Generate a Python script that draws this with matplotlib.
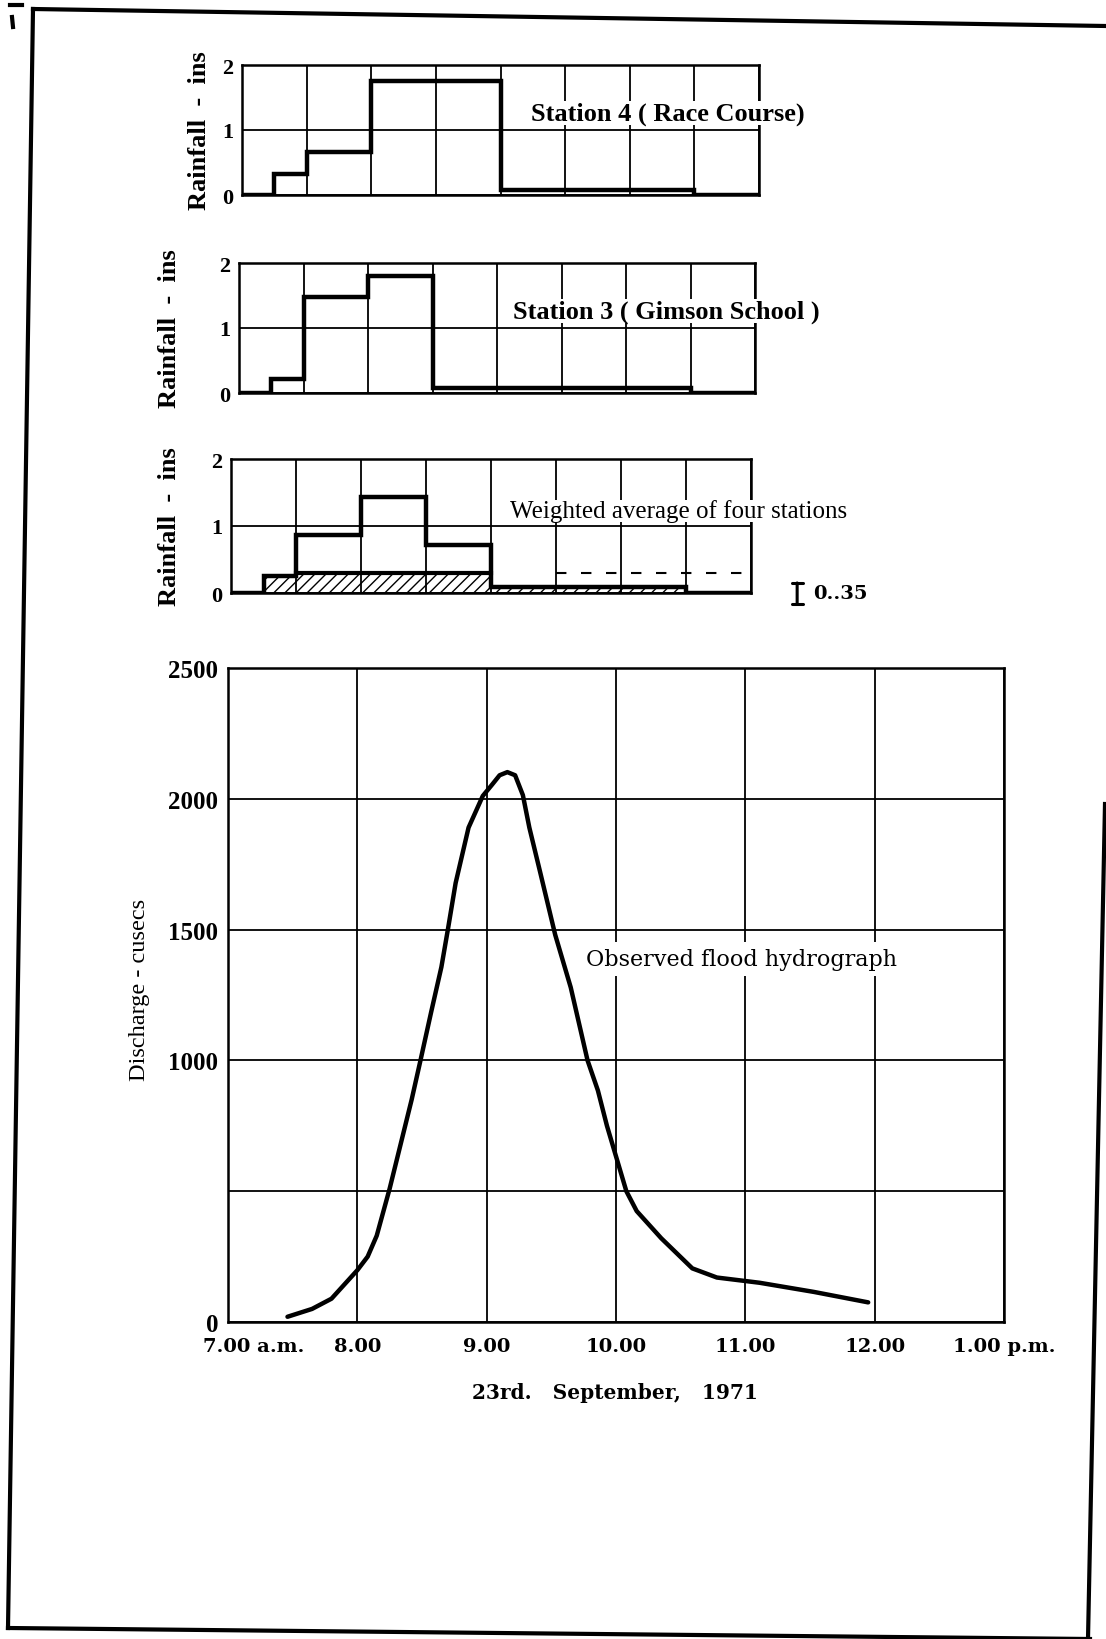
"""
Rainfall hyetographs and observed flood hydrograph, 23 Sept 1971.
Redrawn from a scanned figure; saves out.png.
"""

import matplotlib
matplotlib.use("Agg")
import matplotlib.pyplot as plt
import matplotlib.transforms as mtrans
from matplotlib.lines import Line2D

W, H = 1106, 1640

# ── data ──────────────────────────────────────────────────────────────────────
# rainfall panels: time slots (unlabelled grid units) and depth per slot (ins)
SLOT_EDGES = [0, 0.5, 1, 2, 3, 4, 7, 8]
STATION4   = [0, 0.32, 0.66, 1.76, 1.76, 0.07, 0]
STATION3   = [0, 0.21, 1.48, 1.80, 0.07, 0.07, 0]
WEIGHTED   = [0, 0.26, 0.87, 1.44, 0.71, 0.09, 0]
LOSS       = [0, 0.26, 0.30, 0.30, 0.30, 0.09, 0]   # hatched part under phi line
PHI        = 0.30
PHI_DASH_X = [5.0, 7.9]
PHI_BAR_X  = 8.71
PHI_BAR_Y  = [-0.16, 0.15]

# hydrograph: clock hours (7 = 7.00 a.m.) and discharge (cusecs)
HOURS = [7.46, 7.65, 7.80, 8.00, 8.08, 8.15, 8.20, 8.25, 8.32, 8.42, 8.49,
         8.57, 8.65, 8.70, 8.76, 8.86, 8.97, 9.04, 9.10, 9.16, 9.22, 9.28,
         9.33, 9.41, 9.53, 9.65, 9.78, 9.86, 9.93, 10.02, 10.08, 10.16,
         10.35, 10.59, 10.78, 11.11, 11.53, 11.95]
DISCHARGE = [20, 50, 89, 198, 250, 330, 420, 510, 650, 850, 1004,
             1183, 1357, 1500, 1678, 1890, 2011, 2053, 2090, 2102, 2090, 2014,
             1890, 1727, 1480, 1279, 1000, 885, 750, 600, 500, 424,
             320, 205, 170, 150, 115, 75]

HOUR_TICKS  = [7, 8, 9, 10, 11, 12, 13]
HOUR_LABELS = ["7.00 a.m.", "8.00", "9.00", "10.00", "11.00", "12.00", "1.00 p.m."]
Q_TICKS     = [0, 500, 1000, 1500, 2000, 2500]
Q_LABELS    = ["0", "", "1000", "1500", "2000", "2500"]

SERIF  = "Liberation Serif"
SERIF2 = "DejaVu Serif"


def rect(l, r, t, b):
    return [l / W, 1 - b / H, (r - l) / W, (b - t) / H]


def fpos(x, y):
    return x / W, 1 - y / H


fig = plt.figure(figsize=(W / 100, H / 100), dpi=100)
fig.patch.set_facecolor("white")


# ── rainfall panels ───────────────────────────────────────────────────────────
def rain_panel(box, values, label, label_pos, label_kw, ylab_x):
    ax = fig.add_axes(rect(*box))
    ax.set_xlim(0, 8)
    ax.set_ylim(0, 2)
    ax.set_xticks(range(9))
    ax.set_xticklabels([])
    ax.set_yticks([0, 1, 2])
    ax.set_yticklabels(["0", "1", "2"], fontfamily=SERIF, fontweight="bold",
                       fontsize=16)
    ax.tick_params(length=0, pad=6)
    ax.grid(True, color="black", linewidth=1.3)
    for s in ax.spines.values():
        s.set_linewidth(1.8)
    ax.stairs(values, SLOT_EDGES, color="black", linewidth=3.2, zorder=4)
    fig.text(*fpos(*label_pos), label, va="center", ha="left",
             bbox=dict(facecolor="white", edgecolor="none", pad=0),
             **label_kw)
    cy = (box[2] + box[3]) / 2
    fig.text(*fpos(ylab_x, cy), "Rainfall  -  ins", rotation=90, ha="center",
             va="center", fontfamily=SERIF, fontweight="bold", fontsize=19)
    return ax


bold_lbl = dict(fontfamily=SERIF, fontweight="bold", fontsize=19)
rain_panel((242, 759, 66, 196), STATION4, "Station 4 ( Race Course)",
           (531, 114), bold_lbl, 199)
rain_panel((239, 755, 264, 394), STATION3, "Station 3 ( Gimson School )",
           (513, 312), bold_lbl, 169)
ax3 = rain_panel((231, 751, 460, 594), WEIGHTED,
                 "Weighted average of four stations", (510, 512),
                 dict(fontfamily=SERIF, fontsize=18), 169)

# loss (phi-index) part, hatched
ax3.stairs(LOSS, SLOT_EDGES, fill=True, facecolor="none", edgecolor="black",
           linewidth=0, hatch="///", zorder=3)
ax3.plot([1, 4], [PHI, PHI], color="black", linewidth=3.0, zorder=4)
ax3.plot(PHI_DASH_X, [PHI, PHI], color="black", linewidth=1.5,
         linestyle=(0, (5, 7)), zorder=4)
ax3.annotate("", xy=(PHI_BAR_X, PHI_BAR_Y[0]), xytext=(PHI_BAR_X, PHI_BAR_Y[1]),
             arrowprops=dict(arrowstyle="|-|", mutation_scale=4, lw=2.2,
                             color="black", shrinkA=0, shrinkB=0),
             annotation_clip=False)
ax3.text(PHI_BAR_X + 0.25, 0.0, "0..35", fontfamily=SERIF2, fontweight="bold",
         fontsize=14, va="center", ha="left", clip_on=False)

# ── hydrograph ────────────────────────────────────────────────────────────────
ax = fig.add_axes(rect(228, 1004, 669, 1323))
ax.plot(HOURS, DISCHARGE, color="black", linewidth=3.2,
        solid_capstyle="round", solid_joinstyle="round", zorder=4)
ax.set_xlim(7, 13)
ax.set_ylim(0, 2500)
ax.set_xticks(HOUR_TICKS)
ax.set_xticklabels(HOUR_LABELS, fontfamily=SERIF2, fontweight="bold",
                   fontsize=14)
ax.set_yticks(Q_TICKS)
ax.set_yticklabels(Q_LABELS, fontfamily=SERIF, fontweight="bold", fontsize=18)
ax.tick_params(axis="y", length=0, pad=7)
ax.tick_params(axis="x", length=0, pad=11)
ax.grid(True, color="black", linewidth=1.3)
for s in ax.spines.values():
    s.set_linewidth(1.8)
first = ax.get_xticklabels()[0]
first.set_horizontalalignment("left")
first.set_transform(first.get_transform()
                    + mtrans.ScaledTranslation(-0.25, 0, fig.dpi_scale_trans))

fig.text(*fpos(586, 960), "Observed flood hydrograph", fontfamily=SERIF2,
         fontsize=16, va="center", ha="left",
         bbox=dict(facecolor="white", edgecolor="none", pad=4))
fig.text(*fpos(139, 990), "Discharge - cusecs", rotation=90, ha="center",
         va="center", fontfamily=SERIF, fontsize=17.5)
fig.text(*fpos(615, 1393), "23rd.   September,   1971", ha="center",
         va="center", fontfamily=SERIF2, fontweight="bold", fontsize=14.5)

# ── scanned page border ───────────────────────────────────────────────────────
border = [((33, 10), (1106, 27)),
          ((33, 10), (8, 1629)),
          ((8, 1629), (1090, 1640)),
          ((1105, 805), (1088, 1640)),
          ((10, 6), (22, 6)),
          ((12, 18), (13, 28))]
for (x0, y0), (x1, y1) in border:
    fig.add_artist(Line2D([x0 / W, x1 / W], [1 - y0 / H, 1 - y1 / H],
                          transform=fig.transFigure, color="black",
                          linewidth=3))

fig.savefig("out.png", dpi=100, facecolor="white")
